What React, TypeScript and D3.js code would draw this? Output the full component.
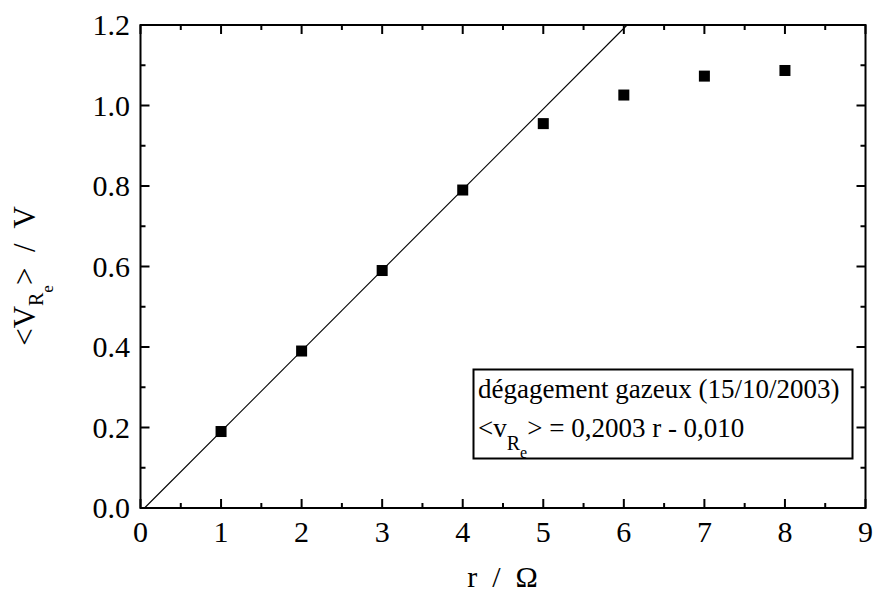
import React from "react";
import * as d3 from "d3";

const rValues = [1, 2, 3, 4, 5, 6, 7, 8];
const vValues = [0.19, 0.39, 0.59, 0.79, 0.955, 1.026, 1.073, 1.087];
const xTicks = [0, 1, 2, 3, 4, 5, 6, 7, 8, 9];
const yTicks = [0.0, 0.2, 0.4, 0.6, 0.8, 1.0, 1.2];
const fitSlope = 0.2003;
const fitIntercept = -0.010;
const legendLine1 = "dégagement gazeux (15/10/2003)";
const legendEq = "> = 0,2003 r - 0,010";

const W = 874;
const H = 592;
const FONT = "Liberation Serif, Times New Roman, Times, DejaVu Serif, serif";

export default function App() {
  const left = 140.5, right = 865.5, top = 25, bottom = 508;
  const x = d3.scaleLinear().domain([0, 9]).range([left, right]);
  const y = d3.scaleLinear().domain([0, 1.2]).range([bottom, top]);

  const xMinor = d3.range(0.5, 9, 1);
  const yMinor = d3.range(0.1, 1.2, 0.2);

  const x0 = Math.max(0, -fitIntercept / fitSlope);
  const x1 = Math.min(9, (1.2 - fitIntercept) / fitSlope);
  const fitLine = d3.line<number>()
    .x((d) => x(d))
    .y((d) => y(fitSlope * d + fitIntercept));

  const majorLen = 9, minorLen = 5;
  const txt = { fontFamily: FONT } as React.CSSProperties;

  return (
    <svg width={W} height={H} style={{ position: "absolute", left: 0, top: 0, background: "#fff" }}>
      <rect x={0} y={0} width={W} height={H} fill="#fff" />
      <path d={fitLine([x0, x1]) || ""} stroke="#000" strokeWidth={1.1} fill="none" />
      {xTicks.map((t) => (
        <g key={"xt" + t}>
          <line x1={x(t)} x2={x(t)} y1={bottom} y2={bottom - majorLen} stroke="#000" strokeWidth={2} />
          <line x1={x(t)} x2={x(t)} y1={top} y2={top + majorLen} stroke="#000" strokeWidth={2} />
          <text x={x(t)} y={542} textAnchor="middle" style={txt} fontSize={30}>{t}</text>
        </g>
      ))}
      {xMinor.map((t) => (
        <g key={"xm" + t}>
          <line x1={x(t)} x2={x(t)} y1={bottom} y2={bottom - minorLen} stroke="#000" strokeWidth={2} />
          <line x1={x(t)} x2={x(t)} y1={top} y2={top + minorLen} stroke="#000" strokeWidth={2} />
        </g>
      ))}
      {yTicks.map((t) => (
        <g key={"yt" + t}>
          <line x1={left} x2={left + majorLen} y1={y(t)} y2={y(t)} stroke="#000" strokeWidth={2} />
          <line x1={right} x2={right - majorLen} y1={y(t)} y2={y(t)} stroke="#000" strokeWidth={2} />
          <text x={130} y={y(t) + 10} textAnchor="end" style={txt} fontSize={30}>{d3.format(".1f")(t)}</text>
        </g>
      ))}
      {yMinor.map((t) => (
        <g key={"ym" + t}>
          <line x1={left} x2={left + minorLen} y1={y(t)} y2={y(t)} stroke="#000" strokeWidth={2} />
          <line x1={right} x2={right - minorLen} y1={y(t)} y2={y(t)} stroke="#000" strokeWidth={2} />
        </g>
      ))}
      <rect x={left} y={top} width={right - left} height={bottom - top} fill="none" stroke="#000" strokeWidth={2} />
      {rValues.map((r, i) => (
        <rect key={"p" + i} x={x(r) - 5.5} y={y(vValues[i]) - 5.5} width={11} height={11} fill="#000" />
      ))}
      <rect x={473.5} y={369.5} width={379} height={89} fill="#fff" stroke="#000" strokeWidth={2} />
      <text x={478} y={398} style={txt} fontSize={27}>{legendLine1}</text>
      <text x={478} y={437} style={txt} fontSize={27}>
        <tspan>{"<v"}</tspan>
        <tspan fontSize={20} dy={13}>R</tspan>
        <tspan fontSize={16} dy={8}>e</tspan>
        <tspan fontSize={27} dy={-21}>{legendEq}</tspan>
      </text>
      <text x={502.5} y={587} textAnchor="middle" style={{ ...txt, whiteSpace: "pre" }} fontSize={30}>{"r  /  Ω"}</text>
      <g transform="translate(35, 276) rotate(-90)">
        <text x={0} y={0} textAnchor="middle" style={{ ...txt, whiteSpace: "pre" }} fontSize={31}>
          <tspan>{"<V"}</tspan>
          <tspan fontSize={20} dy={8}>R</tspan>
          <tspan fontSize={17} dy={10}>e</tspan>
          <tspan fontSize={31} dy={-18}>{">  /  V"}</tspan>
        </text>
      </g>
    </svg>
  );
}
